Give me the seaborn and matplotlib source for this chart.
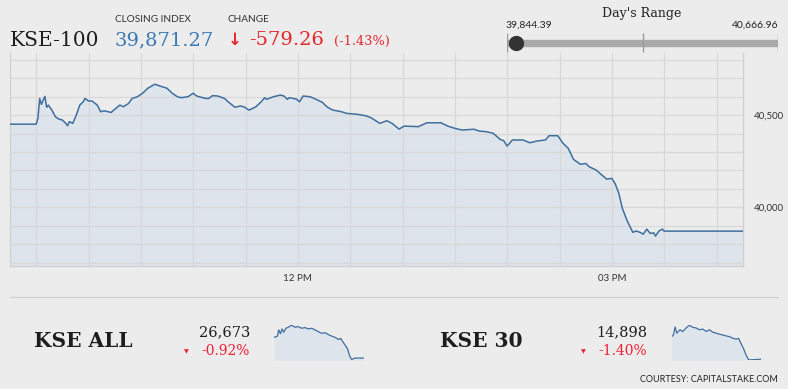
import numpy as np
import pandas as pd
import seaborn as sns
import matplotlib.pyplot as plt

W, H = 788, 389

# KSE-100 intraday
times = ["09:15", "09:30", "09:31", "09:32", "09:33", "09:35", "09:36", "09:37", "09:39", "09:41",
         "09:43", "09:45", "09:47", "09:48", "09:49", "09:51", "09:53", "09:55", "09:57", "09:58",
         "10:00", "10:02", "10:05", "10:07", "10:09", "10:13", "10:15", "10:18", "10:20", "10:23",
         "10:25", "10:28", "10:31", "10:34", "10:38", "10:41", "10:45", "10:48", "10:51", "10:53",
         "10:57", "11:00", "11:02", "11:07", "11:09", "11:11", "11:14", "11:18", "11:20", "11:24",
         "11:27", "11:29", "11:32", "11:35", "11:36", "11:39", "11:41", "11:42", "11:46", "11:50",
         "11:52", "11:54", "11:55", "11:59", "12:01", "12:03", "12:07", "12:10", "12:14", "12:17",
         "12:20", "12:25", "12:28", "12:34", "12:39", "12:42", "12:44", "12:47", "12:51", "12:54",
         "12:58", "13:01", "13:09", "13:14", "13:22", "13:26", "13:30", "13:34", "13:41", "13:44",
         "13:48", "13:52", "13:56", "13:58", "14:00", "14:03", "14:09", "14:13", "14:17", "14:22",
         "14:24", "14:29", "14:32", "14:35", "14:38", "14:42", "14:45", "14:47", "14:51", "14:57",
         "15:00", "15:02", "15:04", "15:06", "15:09", "15:12", "15:14", "15:16", "15:18", "15:20",
         "15:22", "15:24", "15:25", "15:27", "15:29", "15:30", "16:15"]
values = [40450.53, 40450.53, 40482, 40590, 40558, 40601, 40542, 40554, 40527, 40491,
          40478, 40473, 40455, 40442, 40464, 40455, 40500, 40554, 40572, 40590,
          40576, 40576, 40554, 40518, 40523, 40514, 40531, 40554, 40545, 40563,
          40590, 40599, 40618, 40645, 40666.96, 40657, 40645, 40618, 40599, 40594,
          40599, 40618, 40603, 40590, 40590, 40605, 40603, 40590, 40572, 40542,
          40549, 40545, 40527, 40540, 40545, 40572, 40594, 40585, 40599, 40608,
          40603, 40585, 40594, 40587, 40572, 40603, 40599, 40587, 40569, 40542,
          40527, 40518, 40509, 40504, 40496, 40485, 40473, 40455, 40469, 40455,
          40424, 40440, 40437, 40458, 40458, 40440, 40428, 40419, 40423, 40413,
          40410, 40401, 40368, 40361, 40332, 40365, 40365, 40350, 40359, 40365,
          40388, 40388, 40347, 40320, 40260, 40233, 40238, 40220, 40202, 40153,
          40157, 40126, 40076, 39995, 39922, 39865, 39872, 39865, 39855, 39882,
          39859, 39862, 39844.39, 39872, 39882, 39871.27, 39871.27]

closing = 39871.27
change = -579.26
change_pct = -1.43
day_low, day_high = 39844.39, 40666.96

# KSE ALL sparkline
all_times = ["09:15", "09:31", "09:37", "09:45", "09:53", "10:00", "10:11", "10:22", "10:38", "10:54",
             "11:09", "11:25", "11:41", "11:56", "12:12", "12:28", "12:43", "12:59", "13:15", "13:30",
             "13:46", "14:02", "14:17", "14:28", "14:38", "14:49", "15:00", "15:09", "15:20", "15:31",
             "15:51", "16:15"]
all_values = [26921, 26937, 27011, 26966, 27023, 26982, 27031, 27043, 27068, 27043,
              27051, 27031, 27039, 27023, 27031, 27011, 26990, 26970, 26978, 26954,
              26937, 26921, 26897, 26909, 26868, 26827, 26787, 26705, 26652, 26673,
              26673, 26673]

# KSE 30 sparkline
k30_times = ["09:15", "09:23", "09:31", "09:39", "09:46", "09:54", "10:07", "10:23", "10:38", "10:54",
             "11:10", "11:26", "11:41", "11:57", "12:13", "12:28", "12:44", "13:00", "13:16", "13:31",
             "13:47", "14:03", "14:19", "14:30", "14:41", "14:53", "15:06", "15:17", "15:32", "15:56",
             "16:15"]
k30_values = [15110, 15126, 15201, 15143, 15159, 15175, 15159, 15192, 15218, 15198,
              15192, 15175, 15182, 15159, 15175, 15152, 15143, 15133, 15126, 15117,
              15110, 15094, 15087, 15094, 15045, 14996, 14931, 14892, 14892, 14895,
              14898]

BG = "#ececec"
LINE = "#3f6f9f"
FILL = "#dde4eb"
GRID = "#d8d8d8"
RED = "#e3262c"
BLUE = "#3a78b6"

sns.set_theme(style="white")
plt.rcParams["font.family"] = ["Lato", "DejaVu Sans"]
plt.rcParams["figure.facecolor"] = BG
plt.rcParams["axes.facecolor"] = BG


def to_min(t):
    h, m = t.split(":")
    return int(h) * 60 + int(m)


def rect(x0, y0, x1, y1):
    return [x0 / W, 1 - y1 / H, (x1 - x0) / W, (y1 - y0) / H]


def px(x, y):
    return x / W, 1 - y / H


fig = plt.figure(figsize=(W / 100, H / 100), dpi=100)

# main chart
df = pd.DataFrame({"t": [to_min(t) for t in times], "v": values})
ax = fig.add_axes(rect(10, 53, 742.7, 265.7))
ymin, ymax = 39684, 40836
ax.fill_between(df["t"], df["v"], ymin, color=FILL, zorder=1, linewidth=0)
sns.lineplot(data=df, x="t", y="v", ax=ax, color=LINE, linewidth=1.1, zorder=3)
ax.set_xlim(555, 975)
ax.set_ylim(ymin, ymax)
ax.set_xlabel("")
ax.set_ylabel("")
xt = list(range(570, 975, 30))
ax.set_xticks(xt)
ax.set_xticklabels(["12 PM" if t == 720 else "03 PM" if t == 900 else "" for t in xt])
yt = list(range(39700, 40900, 100))
ax.yaxis.tick_right()
ax.set_yticks(yt)
ax.set_yticklabels([f"{t:,}" if t in (40000, 40500) else "" for t in yt])
ax.grid(True, color=GRID, linewidth=0.9, zorder=2)
ax.set_axisbelow(False)
ax.tick_params(axis="x", length=4, color="#cccccc", labelsize=7, labelcolor="#333333", pad=2)
ax.tick_params(axis="y", length=0, labelsize=7, labelcolor="#333333", pad=8)
ax.spines["top"].set_visible(False)
for s in ["left", "right", "bottom"]:
    ax.spines[s].set_color("#cfcfcf")
    ax.spines[s].set_linewidth(0.9)

# header
fig.text(*px(10, 40), "KSE-100", family="DejaVu Serif", fontsize=14.5, color="#1e1e1e", va="center")
fig.text(*px(115, 20), "CLOSING INDEX", fontsize=7.2, color="#333333", va="center")
fig.text(*px(228, 20), "CHANGE", fontsize=7.2, color="#333333", va="center")
fig.text(*px(115, 40), f"{closing:,.2f}", family="DejaVu Serif", fontsize=14, color=BLUE, va="center")
fig.text(*px(228, 40), "\u2193", family="DejaVu Sans", fontsize=12, color=RED, va="center", weight="bold")
fig.text(*px(249, 40), f"{change:,.2f}", family="DejaVu Serif", fontsize=14, color=RED, va="center")
fig.text(*px(334, 41), f"({change_pct:.2f}%)", family="DejaVu Serif", fontsize=9.3, color=RED, va="center")

# day's range
fig.text(*px(642, 14), "Day's Range", family="DejaVu Serif", fontsize=9, color="#222222",
         ha="center", va="center")
fig.text(*px(506, 25), f"{day_low:,.2f}", fontsize=7.5, color="#222222", va="center")
fig.text(*px(778.5, 25), f"{day_high:,.2f}", fontsize=7.5, color="#222222", va="center", ha="right")
rax = fig.add_axes(rect(506.7, 32, 778.3, 53))
rax.set_xlim(day_low, day_high)
rax.set_ylim(0, 1)
rax.axis("off")
rax.plot([day_low, day_high], [0.5, 0.5], color="#a9a9a9", linewidth=5.3, solid_capstyle="butt")
mid = (day_low + day_high) / 2
rax.vlines([day_low, mid, day_high], 0.05, 0.95, color="#9a9a9a", linewidth=1)
rax.plot([closing], [0.5], "o", color="#333333", markersize=10, clip_on=False)

# separator
fig.add_artist(plt.Line2D([10 / W, 778 / W], [1 - 297 / H, 1 - 297 / H], color="#cfcfcf", linewidth=0.9))


def sparkline(x0, x1, ts, vs, lo, hi):
    sdf = pd.DataFrame({"t": [to_min(t) for t in ts], "v": vs})
    sax = fig.add_axes(rect(x0, 325, x1, 360))
    sax.fill_between(sdf["t"], sdf["v"], lo, color=FILL, linewidth=0)
    sns.lineplot(data=sdf, x="t", y="v", ax=sax, color=LINE, linewidth=0.9)
    sax.set_xlim(sdf["t"].min(), sdf["t"].max())
    sax.set_ylim(lo, hi)
    sax.axis("off")


def index_block(name, nx, value, pct, rx, sx0, sx1, ts, vs, lo, hi):
    fig.text(*px(nx, 341), name, family="DejaVu Serif", fontsize=14.5, weight="bold",
             color="#1e1e1e", va="center")
    fig.text(*px(rx, 332), f"{value:,}", family="DejaVu Serif", fontsize=10.5,
             color="#1e1e1e", va="center", ha="right")
    fig.text(*px(rx, 351), f"{pct:.2f}%", family="DejaVu Serif", fontsize=10,
             color="#ee2036", va="center", ha="right")
    fig.text(*px(rx - 64, 352), "\u25bc", family="DejaVu Sans", fontsize=4.5,
             color="#ee2036", va="center", ha="center")
    sparkline(sx0, sx1, ts, vs, lo, hi)


index_block("KSE ALL", 34, 26673, -0.92, 250, 274, 363.5, all_times, all_values, 26650, 27070)
index_block("KSE 30", 440, 14898, -1.40, 647, 671.7, 761, k30_times, k30_values, 14890, 15220)

fig.text(*px(778, 380), "COURTESY: CAPITALSTAKE.COM", fontsize=6.5, color="#222222",
         va="center", ha="right")

fig.savefig("out.png", dpi=100, facecolor=BG)
